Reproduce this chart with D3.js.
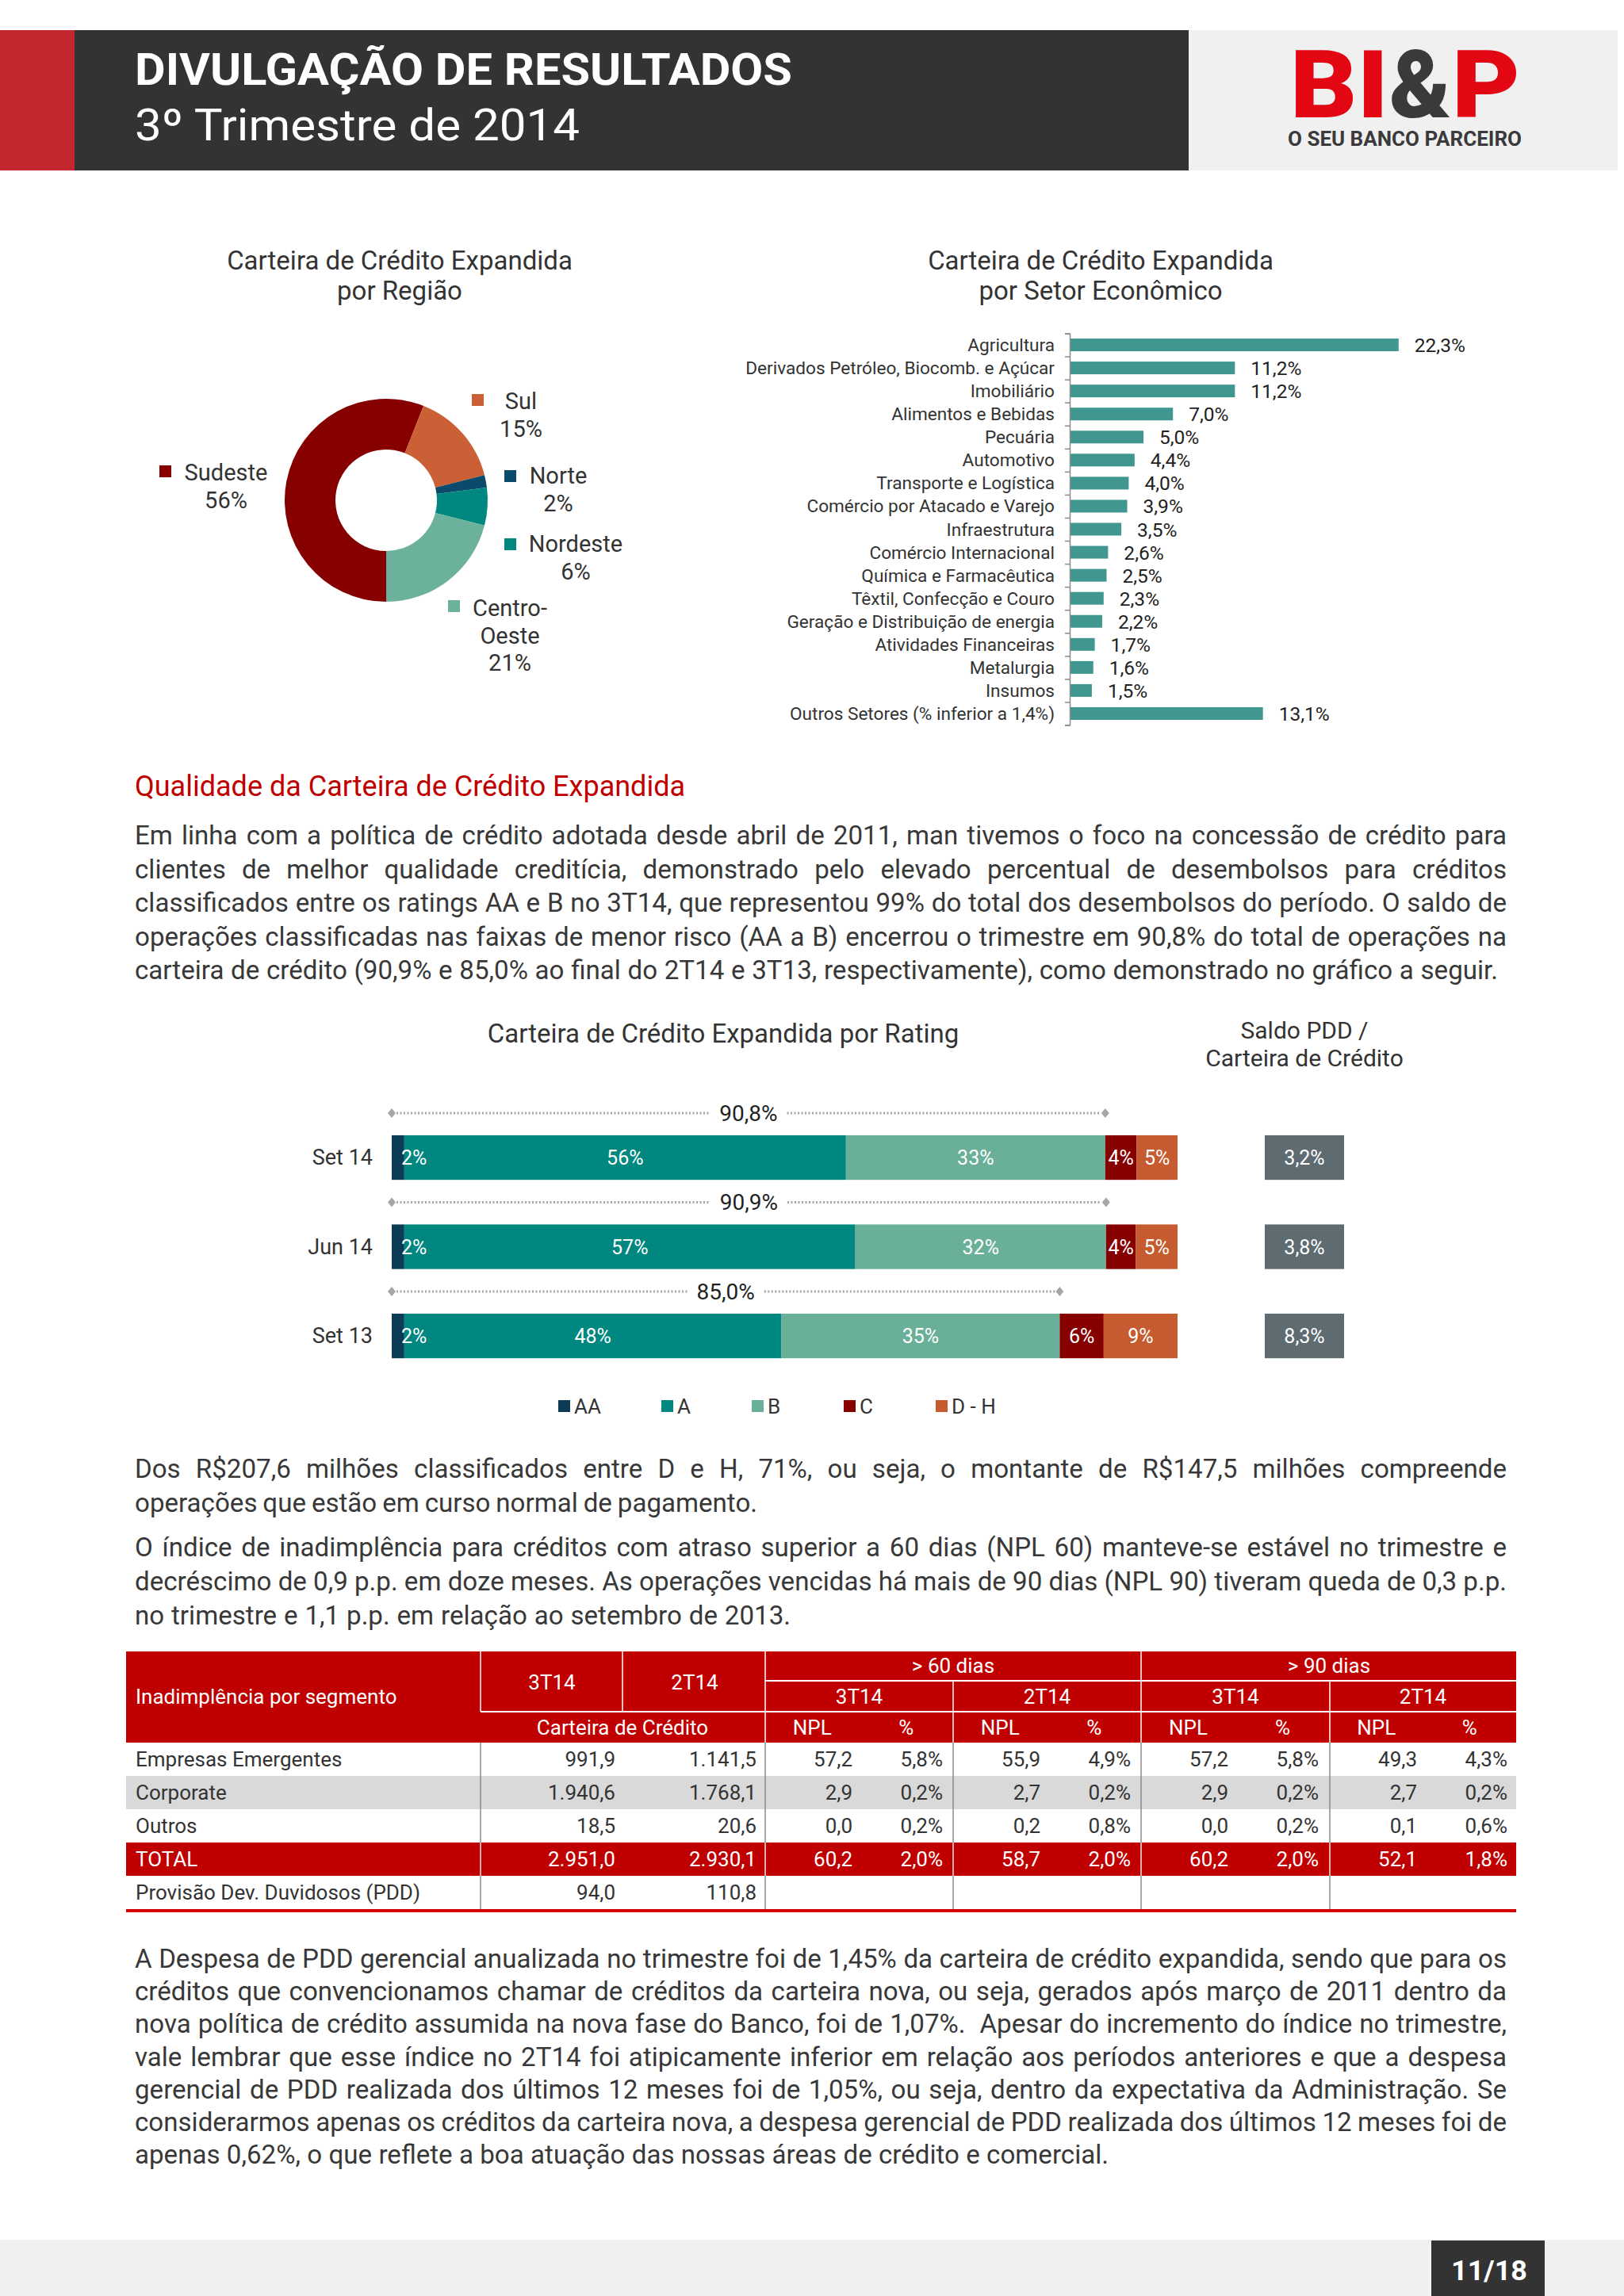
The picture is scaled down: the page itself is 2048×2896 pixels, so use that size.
<!DOCTYPE html>
<html><head><meta charset="utf-8">
<script src="https://cdn.jsdelivr.net/npm/d3@7"></script>
<style>
body{margin:0;background:#ffffff}
svg{display:block}
text{font-family:Roboto,'Liberation Sans',sans-serif}
</style>
</head><body>
<svg id="page" width="2048" height="2896"></svg>
<script>
// ---------------- DATA ----------------
const regionNames = ["Sudeste", "Sul", "Norte", "Nordeste", "Centro-Oeste"];
const regionValues = [56, 15, 2, 6, 21];

const sectorNames = ["Agricultura", "Derivados Petróleo, Biocomb. e Açúcar", "Imobiliário", "Alimentos e Bebidas",
  "Pecuária", "Automotivo", "Transporte e Logística", "Comércio por Atacado e Varejo", "Infraestrutura",
  "Comércio Internacional", "Química e Farmacêutica", "Têxtil, Confecção e Couro",
  "Geração e Distribuição de energia", "Atividades Financeiras", "Metalurgia", "Insumos",
  "Outros Setores (% inferior a 1,4%)"];
const sectorValues = [22.3, 11.2, 11.2, 7.0, 5.0, 4.4, 4.0, 3.9, 3.5, 2.6, 2.5, 2.3, 2.2, 1.7, 1.6, 1.5, 13.1];

const ratingPeriods = ["Set 14", "Jun 14", "Set 13"];
const ratingClasses = ["AA", "A", "B", "C", "D - H"];
const ratingAA = [1.6, 1.6, 1.6];
const ratingA = [56.2, 57.4, 48.0];
const ratingB = [33.0, 31.9, 35.4];
const ratingC = [4.0, 3.8, 5.6];
const ratingDH = [5.2, 5.3, 9.4];
const pddRatio = [3.2, 3.8, 8.3];

const tableSegments = ["Empresas Emergentes", "Corporate", "Outros", "TOTAL", "Provisão Dev. Duvidosos (PDD)"];
const carteira3T14 = [991.9, 1940.6, 18.5, 2951.0, 94.0];
const carteira2T14 = [1141.5, 1768.1, 20.6, 2930.1, 110.8];
const npl60_3T14 = [57.2, 2.9, 0.0, 60.2];
const pct60_3T14 = [5.8, 0.2, 0.2, 2.0];
const npl60_2T14 = [55.9, 2.7, 0.2, 58.7];
const pct60_2T14 = [4.9, 0.2, 0.8, 2.0];
const npl90_3T14 = [57.2, 2.9, 0.0, 60.2];
const pct90_3T14 = [5.8, 0.2, 0.2, 2.0];
const npl90_2T14 = [49.3, 2.7, 0.1, 52.1];
const pct90_2T14 = [4.3, 0.2, 0.6, 1.8];

const para1 = [
  "Em linha com a política de crédito adotada desde abril de 2011, man tivemos o foco na concessão de crédito para",
  "clientes de melhor qualidade creditícia, demonstrado pelo elevado percentual de desembolsos para créditos",
  "classificados entre os ratings AA e B no 3T14, que representou 99% do total dos desembolsos do período. O saldo de",
  "operações classificadas nas faixas de menor risco (AA a B) encerrou o trimestre em 90,8% do total de operações na",
  "carteira de crédito (90,9% e 85,0% ao final do 2T14 e 3T13, respectivamente), como demonstrado no gráfico a seguir."];
const para2 = [
  "Dos R$207,6 milhões classificados entre D e H, 71%, ou seja, o montante de R$147,5 milhões compreende",
  "operações que estão em curso normal de pagamento."];
const para3 = [
  "O índice de inadimplência para créditos com atraso superior a 60 dias (NPL 60) manteve-se estável no trimestre e",
  "decréscimo de 0,9 p.p. em doze meses. As operações vencidas há mais de 90 dias (NPL 90) tiveram queda de 0,3 p.p.",
  "no trimestre e 1,1 p.p. em relação ao setembro de 2013."];
const para4 = [
  "A Despesa de PDD gerencial anualizada no trimestre foi de 1,45% da carteira de crédito expandida, sendo que para os",
  "créditos que convencionamos chamar de créditos da carteira nova, ou seja, gerados após março de 2011 dentro da",
  "nova política de crédito assumida na nova fase do Banco, foi de 1,07%.  Apesar do incremento do índice no trimestre,",
  "vale lembrar que esse índice no 2T14 foi atipicamente inferior em relação aos períodos anteriores e que a despesa",
  "gerencial de PDD realizada dos últimos 12 meses foi de 1,05%, ou seja, dentro da expectativa da Administração. Se",
  "considerarmos apenas os créditos da carteira nova, a despesa gerencial de PDD realizada dos últimos 12 meses foi de",
  "apenas 0,62%, o que reflete a boa atuação das nossas áreas de crédito e comercial."];

// ---------------- SETUP ----------------
const svg = d3.select("#page");
const locale = d3.formatLocale({decimal: ",", thousands: ".", grouping: [3], currency: ["R$", ""]});
const f1 = locale.format(",.1f");
const pct1 = v => locale.format(".1f")(v) + "%";
const pct0 = v => locale.format(".0f")(v) + "%";
const TXT = "#333333";
const BODY = "#383838";
const RED = "#C00000";

// body font size chosen so that the un-justified last lines keep their natural width
const lastLineTargets = [[para1[4], 1719], [para2[1], 785], [para3[2], 827], [para4[6], 1228]];
const probe = svg.append("text").attr("font-size", 30).style("white-space", "pre");
let ratioSum = 0;
lastLineTargets.forEach(([s, w]) => { probe.text(s); ratioSum += w / probe.node().getComputedTextLength(); });
probe.remove();
const BODY_SIZE = Math.max(26, Math.min(36, 30 * ratioSum / lastLineTargets.length));

function line(g, str, x, y, target, size, fill) {
  const t = g.append("text").attr("x", x).attr("y", y).attr("font-size", size).attr("fill", fill || BODY)
    .style("white-space", "pre").text(str);
  if (target) {
    const w = t.node().getComputedTextLength();
    const n = (str.match(/ /g) || []).length;
    if (n) t.attr("word-spacing", ((target - w) / n).toFixed(3));
  }
  return t;
}
function paragraph(lines, y0, dy, lastWidth) {
  const g = svg.append("g");
  lines.forEach((s, i) => {
    const last = i === lines.length - 1;
    line(g, s, 170, y0 + i * dy, last ? lastWidth : 1730, BODY_SIZE);
  });
}

// ---------------- HEADER ----------------
svg.append("rect").attr("x", 0).attr("y", 38).attr("width", 94).attr("height", 177).attr("fill", "#C1272D");
svg.append("rect").attr("x", 94).attr("y", 38).attr("width", 1405).attr("height", 177).attr("fill", "#333333");
svg.append("rect").attr("x", 1499).attr("y", 38).attr("width", 541).attr("height", 177).attr("fill", "#F0F0F0");
svg.append("text").attr("x", 170).attr("y", 107).attr("font-size", 55).attr("font-weight", 700).attr("fill", "#fff")
  .attr("textLength", 829).attr("lengthAdjust", "spacingAndGlyphs").text("DIVULGAÇÃO DE RESULTADOS");
svg.append("text").attr("x", 170).attr("y", 177).attr("font-size", 56).attr("fill", "#fff")
  .attr("textLength", 561).attr("lengthAdjust", "spacingAndGlyphs").text("3º Trimestre de 2014");
const logoParts = [["BI", 1627, 124, "#E30613"], ["&", 1752, 78, "#3a3a3c"], ["P", 1831, 86, "#E30613"]];
logoParts.forEach(([s, x, w, c]) => {
  svg.append("text").attr("x", x).attr("y", 148).attr("font-size", 118).attr("font-weight", 900)
    .attr("textLength", w).attr("lengthAdjust", "spacingAndGlyphs").attr("fill", c).text(s);
});
svg.append("text").attr("x", 1624).attr("y", 184).attr("font-size", 25).attr("font-weight", 700).attr("fill", "#3a3a3c")
  .attr("textLength", 295).attr("lengthAdjust", "spacingAndGlyphs").text("O SEU BANCO PARCEIRO");

// ---------------- PIE ----------------
const regionColors = d3.scaleOrdinal().domain(regionNames)
  .range(["#870000", "#CB5F35", "#0C4A6B", "#00877F", "#6CB19B"]);
const pieG = svg.append("g");
pieG.append("text").attr("x", 504).attr("y", 340).attr("text-anchor", "middle").attr("font-size", 33).attr("fill", TXT)
  .text("Carteira de Crédito Expandida");
pieG.append("text").attr("x", 504).attr("y", 378).attr("text-anchor", "middle").attr("font-size", 33).attr("fill", TXT)
  .text("por Região");
const pie = d3.pie().sort(null).startAngle(Math.PI).endAngle(3 * Math.PI);
const arc = d3.arc().innerRadius(64).outerRadius(128);
const arcs = pie(regionValues);
pieG.append("g").attr("transform", "translate(487,631)").selectAll("path").data(arcs).join("path")
  .attr("d", arc).attr("fill", (d, i) => regionColors(regionNames[i]));
const pieLabelLayout = [
  {sx: 201, sy: 587, cx: 285, by: 606},
  {sx: 595, sy: 497, cx: 657, by: 516},
  {sx: 636, sy: 593, cx: 704, by: 610},
  {sx: 636, sy: 679, cx: 726, by: 696},
  {sx: 565, sy: 757, cx: 643, by: 777}
];
regionNames.forEach((name, i) => {
  const L = pieLabelLayout[i];
  pieG.append("rect").attr("x", L.sx).attr("y", L.sy).attr("width", 15).attr("height", 15).attr("fill", regionColors(name));
  const parts = name === "Centro-Oeste" ? ["Centro-", "Oeste"] : [name];
  parts.concat([pct0(regionValues[i])]).forEach((s, k) => {
    pieG.append("text").attr("x", L.cx).attr("y", L.by + k * 34.5).attr("text-anchor", "middle")
      .attr("font-size", 29).attr("fill", TXT).text(s);
  });
});

// ---------------- SECTOR BARS ----------------
const secG = svg.append("g");
secG.append("text").attr("x", 1388).attr("y", 340).attr("text-anchor", "middle").attr("font-size", 33).attr("fill", TXT)
  .text("Carteira de Crédito Expandida");
secG.append("text").attr("x", 1388).attr("y", 378).attr("text-anchor", "middle").attr("font-size", 33).attr("fill", TXT)
  .text("por Setor Econômico");
const sx = d3.scaleLinear().domain([0, 25]).range([1349, 1349 + 25 * 18.6]);
const sy = d3.scaleBand().domain(sectorNames).range([420.5, 914.5]).paddingInner(0.45).paddingOuter(0.225);
secG.selectAll("rect.bar").data(sectorValues).join("rect").attr("class", "bar")
  .attr("x", sx(0)).attr("y", (d, i) => sy(sectorNames[i]) + sy.bandwidth() / 2 - 8)
  .attr("width", d => sx(d) - sx(0)).attr("height", 16).attr("fill", "#3F978F");
const yAxis = d3.axisLeft(d3.scaleLinear().domain([0, sectorNames.length]).range([420.5, 914.5]))
  .ticks(sectorNames.length).tickSize(6).tickFormat("");
secG.append("g").attr("transform", `translate(${sx(0)},0)`).call(yAxis)
  .call(g => g.selectAll("path,line").attr("stroke", "#8c8c8c").attr("stroke-width", 1.5));
secG.selectAll("text.cat").data(sectorNames).join("text").attr("class", "cat")
  .attr("x", 1330).attr("y", d => sy(d) + sy.bandwidth() / 2 + 8).attr("text-anchor", "end")
  .attr("font-size", 22.6).attr("fill", TXT).text(d => d);
secG.selectAll("text.val").data(sectorValues).join("text").attr("class", "val")
  .attr("x", d => sx(d) + 20).attr("y", (d, i) => sy(sectorNames[i]) + sy.bandwidth() / 2 + 9)
  .attr("font-size", 24.5).attr("fill", "#222").text(d => pct1(d));

// ---------------- HEADING + PARAGRAPH 1 ----------------
svg.append("text").attr("x", 170).attr("y", 1004).attr("font-size", 36).attr("fill", RED)
  .text("Qualidade da Carteira de Crédito Expandida");
paragraph(para1, 1065, 42.6, 1719);

// ---------------- RATING CHART ----------------
const rG = svg.append("g");
rG.append("text").attr("x", 912).attr("y", 1315).attr("text-anchor", "middle").attr("font-size", 33).attr("fill", TXT)
  .text("Carteira de Crédito Expandida por Rating");
rG.append("text").attr("x", 1645).attr("y", 1310).attr("text-anchor", "middle").attr("font-size", 30).attr("fill", TXT)
  .text("Saldo PDD /");
rG.append("text").attr("x", 1645).attr("y", 1345).attr("text-anchor", "middle").attr("font-size", 30).attr("fill", TXT)
  .text("Carteira de Crédito");
const rx = d3.scaleLinear().domain([0, 100]).range([494, 1485]);
const ry = d3.scaleBand().domain(ratingPeriods).range([1403.8, 1741.3]).paddingInner(0.5).paddingOuter(0.25);
const ratingColor = d3.scaleOrdinal().domain(ratingClasses).range(["#0B3B55", "#00877F", "#6AAF98", "#870000", "#C65B2F"]);
const ratingTable = ratingPeriods.map((p, i) => ({period: p, "AA": ratingAA[i], "A": ratingA[i], "B": ratingB[i], "C": ratingC[i], "D - H": ratingDH[i]}));
const stacked = d3.stack().keys(ratingClasses)(ratingTable);
const barLayer = rG.append("g"), labelLayer = rG.append("g");
stacked.forEach(series => {
  const key = series.key;
  barLayer.append("g").selectAll("rect").data(series).join("rect")
    .attr("x", d => rx(d[0])).attr("y", d => ry(d.data.period))
    .attr("width", d => rx(d[1]) - rx(d[0])).attr("height", ry.bandwidth()).attr("fill", ratingColor(key));
  labelLayer.append("g").selectAll("text").data(series).join("text")
    .attr("x", d => key === "AA" ? rx(d[0]) + 12 : (rx(d[0]) + rx(d[1])) / 2)
    .attr("y", d => ry(d.data.period) + ry.bandwidth() / 2 + 9)
    .attr("text-anchor", key === "AA" ? "start" : "middle")
    .attr("font-size", 25).attr("fill", "#fff").text(d => pct0(d[1] - d[0]));
});
const bracketColor = "#A6A6A6";
ratingTable.forEach((row, i) => {
  const tot = row["AA"] + row["A"] + row["B"];
  const yb = ry(row.period) - 28;
  const x0 = rx(0), x1 = rx(tot), xm = (x0 + x1) / 2;
  const lab = rG.append("text").attr("x", xm).attr("y", yb + 10).attr("text-anchor", "middle")
    .attr("font-size", 28).attr("fill", "#222").text(pct1(tot));
  const half = lab.node().getComputedTextLength() / 2 + 12;
  [[x0 + 6, xm - half], [xm + half, x1 - 6]].forEach(([a, b]) => {
    rG.append("line").attr("x1", a).attr("x2", b).attr("y1", yb).attr("y2", yb)
      .attr("stroke", bracketColor).attr("stroke-width", 3).attr("stroke-dasharray", "2 2.5");
  });
  [x0, x1].forEach(x => {
    rG.append("path").attr("d", `M${x - 5},${yb} L${x},${yb - 6} L${x + 5},${yb} L${x},${yb + 6} Z`).attr("fill", bracketColor);
  });
  rG.append("text").attr("x", 470).attr("y", ry(row.period) + ry.bandwidth() / 2 + 9).attr("text-anchor", "end")
    .attr("font-size", 27).attr("fill", TXT).text(row.period);
});
rG.selectAll("rect.pdd").data(pddRatio).join("rect").attr("class", "pdd")
  .attr("x", 1595).attr("y", (d, i) => ry(ratingPeriods[i])).attr("width", 100).attr("height", ry.bandwidth())
  .attr("fill", "#5E6B71");
rG.selectAll("text.pdd").data(pddRatio).join("text").attr("class", "pdd")
  .attr("x", 1645).attr("y", (d, i) => ry(ratingPeriods[i]) + ry.bandwidth() / 2 + 9).attr("text-anchor", "middle")
  .attr("font-size", 25).attr("fill", "#fff").text(d => pct1(d));
const legendX = [704, 834, 948, 1064, 1180];
ratingClasses.forEach((c, i) => {
  rG.append("rect").attr("x", legendX[i]).attr("y", 1766).attr("width", 15).attr("height", 15).attr("fill", ratingColor(c));
  rG.append("text").attr("x", legendX[i] + 20).attr("y", 1783).attr("font-size", 26).attr("fill", TXT).text(c);
});

// ---------------- PARAGRAPHS 2-3 ----------------
paragraph(para2, 1864, 43, 785);
paragraph(para3, 1963, 43, 827);

// ---------------- TABLE ----------------
const tG = svg.append("g");
const TL = 159, TR = 1912;
const rowTop = [2198, 2240, 2282, 2324, 2366];
const rowH = 42;
tG.append("rect").attr("x", TL).attr("y", 2083).attr("width", TR - TL).attr("height", 115).attr("fill", RED);
tG.append("rect").attr("x", TL).attr("y", rowTop[1]).attr("width", TR - TL).attr("height", rowH).attr("fill", "#D9D9D9");
tG.append("rect").attr("x", TL).attr("y", rowTop[3]).attr("width", TR - TL).attr("height", rowH).attr("fill", RED);
const wl = (x1, y1, x2, y2, c, w) => tG.append("line").attr("x1", x1).attr("y1", y1).attr("x2", x2).attr("y2", y2)
  .attr("stroke", c).attr("stroke-width", w || 1.5);
wl(606, 2083, 606, 2159, "#fff"); wl(785, 2083, 785, 2159, "#fff");
wl(965, 2083, 965, 2198, "#fff"); wl(1439, 2083, 1439, 2198, "#fff");
wl(1202, 2120, 1202, 2198, "#fff"); wl(1677, 2120, 1677, 2198, "#fff");
wl(965, 2120, TR, 2120, "#fff", 2); wl(606, 2159, TR, 2159, "#fff", 2);
[606, 965, 1202, 1439, 1677].forEach(x => {
  wl(x, 2198, x, 2324, "#8a8a8a"); wl(x, 2324, x, 2366, "#e8e8e8"); wl(x, 2366, x, 2408, "#8a8a8a");
});
wl(TL, 2410, TR, 2410, "#D40000", 4);
const hd = (s, x, y, anchor) => tG.append("text").attr("x", x).attr("y", y).attr("text-anchor", anchor || "middle")
  .attr("font-size", 26).attr("fill", "#fff").text(s);
hd("Inadimplência por segmento", 171, 2149, "start");
hd("3T14", 696, 2131); hd("2T14", 876, 2131);
hd("Carteira de Crédito", 785, 2188);
hd("> 60 dias", 1202, 2110); hd("> 90 dias", 1676, 2110);
const groups = [965, 1202, 1439, 1677];
groups.forEach((gx, k) => {
  const w = (k === 3 ? TR : groups[k + 1]) - gx;
  hd(k % 2 === 0 ? "3T14" : "2T14", gx + w / 2, 2149);
  hd("NPL", gx + w / 4, 2188); hd("%", gx + 3 * w / 4, 2188);
});
const nplCols = [[npl60_3T14, pct60_3T14], [npl60_2T14, pct60_2T14], [npl90_3T14, pct90_3T14], [npl90_2T14, pct90_2T14]];
tableSegments.forEach((seg, r) => {
  const y = rowTop[r] + rowH / 2 + 9;
  const col = r === 3 ? "#fff" : "#333";
  const cell = (s, x, anchor) => tG.append("text").attr("x", x).attr("y", y).attr("text-anchor", anchor || "end")
    .attr("font-size", 26).attr("fill", col).text(s);
  cell(seg, 171, "start");
  cell(f1(carteira3T14[r]), 776);
  cell(f1(carteira2T14[r]), 954);
  nplCols.forEach(([npl, pc], k) => {
    if (r < npl.length) {
      cell(f1(npl[r]), groups[k] + 110);
      cell(pct1(pc[r]), groups[k] + 224);
    }
  });
});

// ---------------- PARAGRAPH 4 ----------------
paragraph(para4, 2482, 41.2, 1228);

// ---------------- FOOTER ----------------
svg.append("rect").attr("x", 0).attr("y", 2825).attr("width", 2048).attr("height", 71).attr("fill", "#F0F0F0");
svg.append("rect").attr("x", 1805).attr("y", 2826).attr("width", 143).attr("height", 70).attr("fill", "#333333");
svg.append("text").attr("x", 1878).attr("y", 2876).attr("text-anchor", "middle").attr("font-size", 35)
  .attr("font-weight", 700).attr("fill", "#fff").attr("textLength", 96).attr("lengthAdjust", "spacingAndGlyphs").text("11/18");
</script>
</body></html>
